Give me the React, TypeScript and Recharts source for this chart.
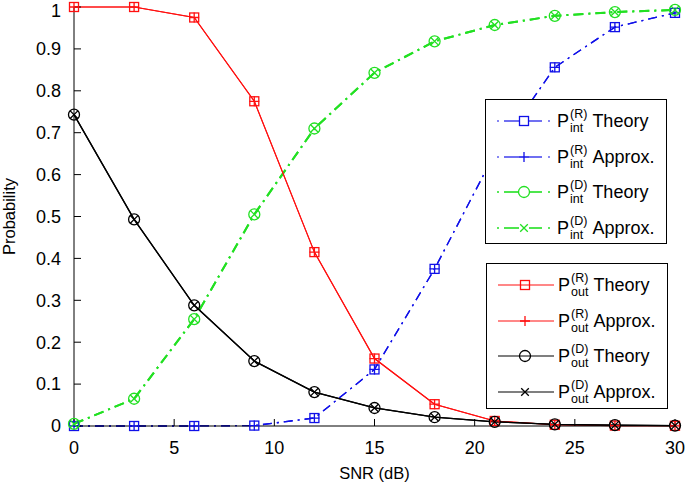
import React from "react";
import { Line, LineChart, XAxis, YAxis, Label } from "recharts";

const snr = [0, 3, 6, 9, 12, 15, 18, 21, 24, 27, 30];

const pIntRTheory = [0, 0, 0, 0.001, 0.019, 0.135, 0.375, 0.65, 0.856, 0.952, 0.986];
const pIntRApprox = [0, 0, 0, 0.001, 0.019, 0.135, 0.375, 0.65, 0.856, 0.952, 0.986];
const pIntDTheory = [0.005, 0.065, 0.255, 0.505, 0.71, 0.843, 0.918, 0.957, 0.979, 0.988, 0.993];
const pIntDApprox = [0.005, 0.065, 0.255, 0.505, 0.71, 0.843, 0.918, 0.957, 0.979, 0.988, 0.993];
const pOutRTheory = [1, 1, 0.975, 0.775, 0.415, 0.161, 0.052, 0.012, 0.003, 0.001, 0.0005];
const pOutRApprox = [1, 1, 0.975, 0.775, 0.415, 0.161, 0.052, 0.012, 0.003, 0.001, 0.0005];
const pOutDTheory = [0.743, 0.493, 0.288, 0.155, 0.081, 0.043, 0.021, 0.01, 0.004, 0.002, 0.001];
const pOutDApprox = [0.743, 0.493, 0.288, 0.155, 0.081, 0.043, 0.021, 0.01, 0.004, 0.002, 0.001];

const xTicks = [0, 5, 10, 15, 20, 25, 30];
const yTicks = [0, 0.1, 0.2, 0.3, 0.4, 0.5, 0.6, 0.7, 0.8, 0.9, 1];

const BLUE = "#1010e8";
const GREEN = "#22e022";
const RED = "#ff1010";
const BLACK = "#000000";

const FONT = "'Liberation Sans', Arial, sans-serif";

type Marker = "square" | "plus" | "circle" | "cross";

interface SeriesDef {
  key: string;
  values: number[];
  color: string;
  marker: Marker;
  sup: string;
  sub: string;
  text: string;
  dashed: boolean;
  width: number;
}

const intSeries: SeriesDef[] = [
  { key: "intRT", values: pIntRTheory, color: BLUE, marker: "square", sup: "(R)", sub: "int", text: "Theory", dashed: true, width: 1.3 },
  { key: "intRA", values: pIntRApprox, color: BLUE, marker: "plus", sup: "(R)", sub: "int", text: "Approx.", dashed: true, width: 1.3 },
  { key: "intDT", values: pIntDTheory, color: GREEN, marker: "circle", sup: "(D)", sub: "int", text: "Theory", dashed: true, width: 2 },
  { key: "intDA", values: pIntDApprox, color: GREEN, marker: "cross", sup: "(D)", sub: "int", text: "Approx.", dashed: true, width: 2 },
];

const outSeries: SeriesDef[] = [
  { key: "outRT", values: pOutRTheory, color: RED, marker: "square", sup: "(R)", sub: "out", text: "Theory", dashed: false, width: 1.1 },
  { key: "outRA", values: pOutRApprox, color: RED, marker: "plus", sup: "(R)", sub: "out", text: "Approx.", dashed: false, width: 1.1 },
  { key: "outDT", values: pOutDTheory, color: BLACK, marker: "circle", sup: "(D)", sub: "out", text: "Theory", dashed: false, width: 1.3 },
  { key: "outDA", values: pOutDApprox, color: BLACK, marker: "cross", sup: "(D)", sub: "out", text: "Approx.", dashed: false, width: 1.3 },
];

const allSeries = [...intSeries, ...outSeries];

const data = snr.map((x, i) => {
  const row: Record<string, number> = { snr: x };
  allSeries.forEach((s) => {
    row[s.key] = s.values[i];
  });
  return row;
});

function MarkerShape({ kind, cx, cy, color }: { kind: Marker; cx: number; cy: number; color: string }) {
  const sw = 1.3;
  if (kind === "square") {
    return <rect x={cx - 4.5} y={cy - 4.5} width={9} height={9} fill="none" stroke={color} strokeWidth={sw} />;
  }
  if (kind === "plus") {
    return (
      <path d={`M${cx - 5},${cy}H${cx + 5}M${cx},${cy - 5}V${cy + 5}`} stroke={color} strokeWidth={sw} fill="none" />
    );
  }
  if (kind === "circle") {
    return <circle cx={cx} cy={cy} r={5.5} fill="none" stroke={color} strokeWidth={sw} />;
  }
  return (
    <path
      d={`M${cx - 3.8},${cy - 3.8}L${cx + 3.8},${cy + 3.8}M${cx - 3.8},${cy + 3.8}L${cx + 3.8},${cy - 3.8}`}
      stroke={color}
      strokeWidth={sw}
      fill="none"
    />
  );
}

function makeDot(kind: Marker, color: string) {
  return (props: any) => {
    const { cx, cy, index } = props;
    if (cx == null || cy == null) return <g key={`d-${index}`} />;
    return (
      <g key={`d-${index}`}>
        <MarkerShape kind={kind} cx={cx} cy={cy} color={color} />
      </g>
    );
  };
}

function LegendRow({ s, top, lineEnd }: { s: SeriesDef; top: number; lineEnd: number }) {
  return (
    <div style={{ position: "absolute", left: 0, top, width: "100%", height: 36 }}>
      <svg width={72} height={36} style={{ position: "absolute", left: 0, top: 0 }}>
        {s.dashed ? (
          <g stroke={s.color} strokeWidth={s.width === 2 ? 1.6 : 1.2}>
            <line x1={11} y1={18} x2={13} y2={18} />
            <line x1={18} y1={18} x2={33} y2={18} />
            <line x1={43} y1={18} x2={56} y2={18} />
            <line x1={62} y1={18} x2={64} y2={18} />
          </g>
        ) : (
          <line x1={11} y1={18} x2={lineEnd} y2={18} stroke={s.color} strokeWidth={1.2} />
        )}
        <MarkerShape kind={s.marker} cx={38} cy={18} color={s.color} />
      </svg>
      <div
        style={{
          position: "absolute",
          left: 71,
          top: 0,
          height: 36,
          display: "flex",
          alignItems: "center",
          fontSize: 18,
          lineHeight: "20px",
          color: "#000",
          whiteSpace: "nowrap",
        }}
      >
        <span>P</span>
        <span style={{ display: "inline-flex", flexDirection: "column", fontSize: 12.5, lineHeight: "14px", marginLeft: 1 }}>
          <span>{s.sup}</span>
          <span>{s.sub}</span>
        </span>
        <span style={{ marginLeft: 5 }}>{s.text}</span>
      </div>
    </div>
  );
}

function LegendBox({ series, left, top, width, height, lineEnd }: { series: SeriesDef[]; left: number; top: number; width: number; height: number; lineEnd: number }) {
  return (
    <div
      style={{
        position: "absolute",
        left,
        top,
        width,
        height,
        background: "#fff",
        border: "1.2px solid #000",
        boxSizing: "border-box",
      }}
    >
      {series.map((s, i) => (
        <LegendRow key={s.key} s={s} top={3 + i * 35.5} lineEnd={lineEnd} />
      ))}
    </div>
  );
}

const tickStyle = { fill: "#000", fontSize: 18, fontFamily: FONT };

export default function App() {
  return (
    <div style={{ position: "absolute", left: 0, top: 0, width: 685, height: 484, background: "#fff", fontFamily: FONT }}>
      <LineChart width={685} height={484} data={data} margin={{ top: 7, right: 10, left: 0, bottom: 0 }}>
        <XAxis
          dataKey="snr"
          type="number"
          domain={[0, 30]}
          ticks={xTicks}
          height={58}
          tickSize={-7}
          tickMargin={22}
          stroke="#000"
          tick={tickStyle}
        >
          <Label value="SNR (dB)" position="insideBottom" offset={5} style={{ fill: "#000", fontSize: 16.5, fontFamily: FONT }} />
        </XAxis>
        <XAxis
          xAxisId="top"
          orientation="top"
          type="number"
          domain={[0, 30]}
          ticks={xTicks}
          height={0}
          tickSize={-7}
          stroke="#000"
          tickFormatter={() => ""}
        />
        <YAxis
          type="number"
          domain={[0, 1]}
          ticks={yTicks}
          width={74}
          tickSize={-7}
          tickMargin={20}
          stroke="#000"
          tick={tickStyle}
          tickFormatter={(v: number) => String(Math.round(v * 10) / 10)}
        >
          <Label
            value="Probability"
            angle={-90}
            position="insideLeft"
            offset={9.5}
            style={{ fill: "#000", fontSize: 16.5, fontFamily: FONT, textAnchor: "middle" }}
          />
        </YAxis>
        <YAxis
          yAxisId="right"
          orientation="right"
          type="number"
          domain={[0, 1]}
          ticks={yTicks}
          width={0}
          tickSize={-7}
          stroke="#000"
          tickFormatter={() => ""}
        />
        {allSeries.map((s) => (
          <Line
            key={s.key}
            type="linear"
            dataKey={s.key}
            stroke={s.color}
            strokeWidth={s.width}
            strokeDasharray={s.dashed ? (s.width === 2 ? "10 5 2 5" : "9 5 2 5") : undefined}
            dot={makeDot(s.marker, s.color)}
            activeDot={false}
            isAnimationActive={false}
          />
        ))}
      </LineChart>
      <LegendBox series={intSeries} left={485} top={99} width={182} height={145} lineEnd={64} />
      <LegendBox series={outSeries} left={486} top={263} width={182} height={146} lineEnd={67} />
    </div>
  );
}
